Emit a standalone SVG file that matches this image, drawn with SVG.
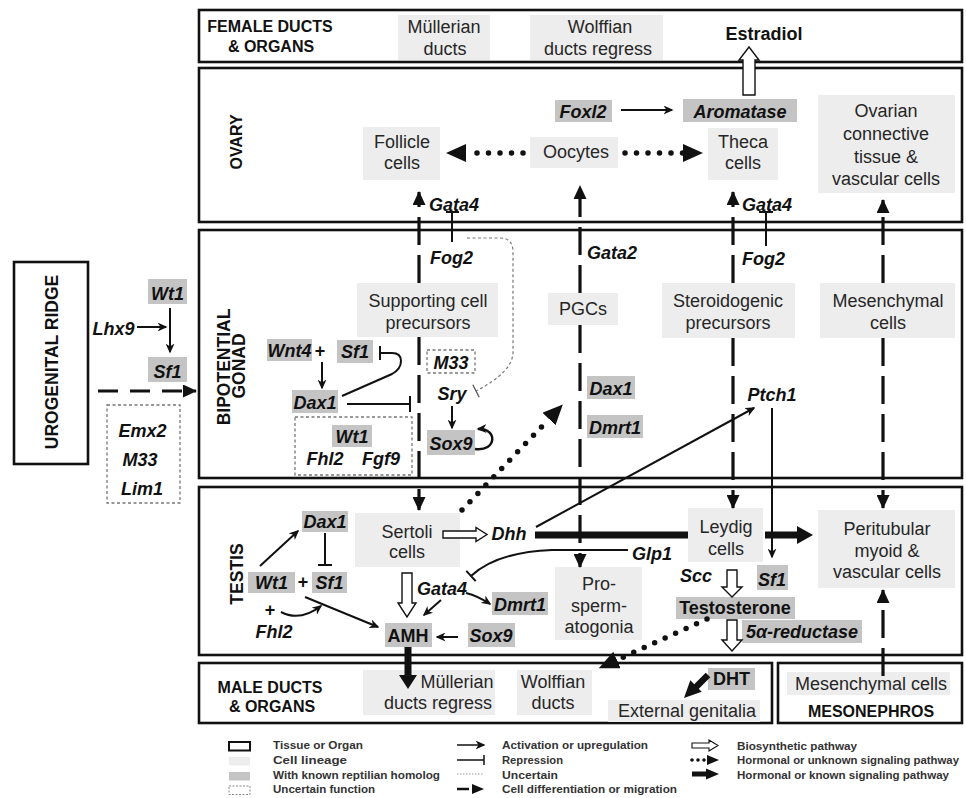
<svg xmlns="http://www.w3.org/2000/svg" width="966" height="798" viewBox="0 0 966 798">
<defs>
<style>
.org{fill:#fff;stroke:#111;stroke-width:2.6}
.cell{fill:#ededed}
.gene{fill:#c4c4c4}
.unb{fill:none;stroke:#777;stroke-width:1.3;stroke-dasharray:3 2.5}
text{font-family:"Liberation Sans",Arial,Helvetica,sans-serif;font-size:18px;fill:#262626;text-anchor:middle}
.g{font-weight:bold;font-style:italic;fill:#111}
.b{font-weight:bold;fill:#111}
.ti{font-weight:bold;font-size:16px;fill:#111}
.lg{font-weight:bold;font-size:11px;fill:#333;text-anchor:start}
.act{fill:none;stroke:#111;stroke-width:2;marker-end:url(#ma)}
.rep{fill:none;stroke:#111;stroke-width:2}
.diff{fill:none;stroke:#111;stroke-width:3.2;stroke-dasharray:28 10;marker-end:url(#md)}
.dots{fill:none;stroke:#111;stroke-width:5.5;stroke-linecap:round;stroke-dasharray:0 11.5;marker-end:url(#mh)}
.unc{fill:none;stroke:#777;stroke-width:1.2;stroke-dasharray:3 2.5}
.bio{fill:#fff;stroke:#111;stroke-width:1.4}
.thk{fill:#111}
</style>
<marker id="ma" viewBox="0 0 10 9" refX="8.5" refY="4.5" markerWidth="10" markerHeight="9" markerUnits="userSpaceOnUse" orient="auto"><path d="M0,0 L10,4.5 L0,9 L3,4.5 z" fill="#111"/></marker>
<marker id="md" viewBox="0 0 14 13" refX="13" refY="6.5" markerWidth="14" markerHeight="13" markerUnits="userSpaceOnUse" orient="auto"><path d="M0,0 L14,6.5 L0,13 z" fill="#111"/></marker>
<marker id="mh" viewBox="0 0 20 18" refX="0" refY="9" markerWidth="20" markerHeight="18" markerUnits="userSpaceOnUse" orient="auto"><path d="M0,0 L20,9 L0,18 z" fill="#111"/></marker>
</defs>
<rect width="966" height="798" fill="#fff"/>

<!-- tissue / organ boxes -->
<g id="female-ducts"><rect class="org" x="199" y="10" width="763" height="52"/>
<text class="ti" x="270" y="32">FEMALE DUCTS</text><text class="ti" x="271" y="52">&amp; ORGANS</text></g>
<g id="ovary"><rect class="org" x="199" y="68" width="763" height="154"/>
<text class="ti" transform="translate(242,142) rotate(-90)">OVARY</text></g>
<g id="bipotential-gonad"><rect class="org" x="199" y="230" width="763" height="248"/>
<text class="ti" style="font-size:17.5px" transform="translate(230,367) rotate(-90)">BIPOTENTIAL</text>
<text class="ti" style="font-size:17.5px" transform="translate(245,366) rotate(-90)">GONAD</text></g>
<g id="testis"><rect class="org" x="199" y="487" width="763" height="168"/>
<text class="ti" style="font-size:17.5px" transform="translate(243,574) rotate(-90)">TESTIS</text></g>
<g id="male-ducts"><rect class="org" x="199" y="663" width="573" height="60"/>
<text class="ti" x="270" y="693">MALE DUCTS</text><text class="ti" x="272" y="712">&amp; ORGANS</text></g>
<g id="mesonephros"><rect class="org" x="778" y="663" width="184" height="60"/>
<text class="ti" x="871" y="717">MESONEPHROS</text></g>
<g id="urogenital-ridge"><rect class="org" x="14" y="262" width="74" height="202"/>
<text class="ti" style="font-size:17.5px" transform="translate(58,362) rotate(-90)">UROGENITAL RIDGE</text></g>

<!-- female ducts nodes -->
<g id="mullerian-ducts"><rect class="cell" x="398" y="15" width="92" height="45"/><text x="444" y="33">Müllerian</text><text x="445" y="55">ducts</text></g>
<g id="wolffian-regress"><rect class="cell" x="530" y="15" width="133" height="45"/><text x="600" y="33">Wolffian</text><text x="598" y="55">ducts regress</text></g>
<g id="estradiol"><text class="b" x="764" y="40">Estradiol</text></g>

<!-- ovary nodes -->
<g id="foxl2"><rect class="gene" x="555" y="100" width="57" height="22"/><text class="g" x="583" y="118">Foxl2</text></g>
<g id="aromatase"><rect class="gene" x="683" y="99" width="114" height="23"/><text class="g" x="740" y="118">Aromatase</text></g>
<g id="follicle-cells"><rect class="cell" x="363" y="127" width="77" height="53"/><text x="402" y="148">Follicle</text><text x="402" y="169">cells</text></g>
<g id="oocytes"><rect class="cell" x="530" y="137" width="88" height="31"/><text x="576" y="158">Oocytes</text></g>
<g id="theca-cells"><rect class="cell" x="708" y="128" width="70" height="52"/><text x="743" y="148">Theca</text><text x="743" y="169">cells</text></g>
<g id="ovarian-connective"><rect class="cell" x="818" y="95" width="137" height="98"/><text x="886" y="117">Ovarian</text><text x="886" y="140">connective</text><text x="886" y="163">tissue &amp;</text><text x="886" y="185">vascular cells</text></g>
<g id="gata4-ov1"><text class="g" x="429" y="211" style="text-anchor:start">Gata4</text></g>
<g id="gata4-ov2"><text class="g" x="742" y="211" style="text-anchor:start">Gata4</text></g>

<!-- urogenital ridge genes -->
<g id="wt1-ur"><rect class="gene" x="148" y="279" width="39" height="25"/><text class="g" x="167.5" y="300">Wt1</text></g>
<g id="lhx9"><text class="g" x="113.5" y="335">Lhx9</text></g>
<g id="sf1-ur"><rect class="gene" x="148" y="357" width="39" height="25"/><text class="g" x="167.5" y="378">Sf1</text></g>
<g id="uncertain-ur"><rect class="unb" x="107" y="405" width="73" height="98"/><text class="g" x="142.5" y="437">Emx2</text><text class="g" x="140" y="466">M33</text><text class="g" x="142" y="495">Lim1</text></g>

<!-- bipotential gonad nodes -->
<g id="supporting-precursors"><rect class="cell" x="357" y="283" width="141" height="54"/><text x="428" y="307">Supporting cell</text><text x="428" y="329">precursors</text></g>
<g id="pgcs"><rect class="cell" x="548" y="293" width="70" height="32"/><text x="583" y="315">PGCs</text></g>
<g id="steroidogenic-precursors"><rect class="cell" x="662" y="283" width="133" height="55"/><text x="728" y="307">Steroidogenic</text><text x="728" y="329">precursors</text></g>
<g id="mesenchymal-bip"><rect class="cell" x="820" y="283" width="135" height="55"/><text x="888" y="307">Mesenchymal</text><text x="888" y="329">cells</text></g>
<g id="fog2-1"><text class="g" x="430" y="264" style="text-anchor:start">Fog2</text></g>
<g id="gata2"><text class="g" x="587" y="259" style="text-anchor:start">Gata2</text></g>
<g id="fog2-2"><text class="g" x="742" y="265" style="text-anchor:start">Fog2</text></g>
<g id="wnt4"><rect class="gene" x="267" y="339" width="45" height="22"/><text class="g" x="289.5" y="357">Wnt4</text><text class="b" x="320" y="357">+</text></g>
<g id="sf1-bip"><rect class="gene" x="337" y="340" width="36" height="23"/><text class="g" x="355" y="358">Sf1</text></g>
<g id="dax1-bip"><rect class="gene" x="292" y="390" width="46" height="23"/><text class="g" x="315" y="409">Dax1</text></g>
<g id="uncertain-bip"><rect class="unb" x="295" y="417" width="117" height="58"/><rect class="gene" x="332" y="425" width="40" height="22"/><text class="g" x="352" y="443">Wt1</text><text class="g" x="325" y="465">Fhl2</text><text class="g" x="381" y="465">Fgf9</text></g>
<g id="m33-bip"><rect class="unb" x="427" y="350" width="48" height="23"/><text class="g" x="451" y="369">M33</text></g>
<g id="sry"><text class="g" x="452" y="400">Sry</text></g>
<g id="sox9-bip"><rect class="gene" x="427" y="430" width="48" height="25"/><text class="g" x="451" y="450">Sox9</text></g>
<g id="dax1-pgc"><rect class="gene" x="587" y="376" width="48" height="23"/><text class="g" x="611" y="395">Dax1</text></g>
<g id="dmrt1-pgc"><rect class="gene" x="587" y="415" width="56" height="23"/><text class="g" x="615" y="434">Dmrt1</text></g>
<g id="ptch1"><text class="g" x="772" y="401">Ptch1</text></g>

<!-- testis nodes -->
<g id="dax1-t"><rect class="gene" x="302" y="511" width="46" height="21"/><text class="g" x="325" y="528">Dax1</text></g>
<g id="wt1-t"><rect class="gene" x="248" y="572" width="47" height="21"/><text class="g" x="271.5" y="589">Wt1</text><text class="b" x="303" y="588">+</text></g>
<g id="sf1-t"><rect class="gene" x="312" y="572" width="35" height="21"/><text class="g" x="329.5" y="589">Sf1</text></g>
<g id="fhl2-t"><text class="b" x="270" y="616">+</text><text class="g" x="274" y="638">Fhl2</text></g>
<g id="sertoli-cells"><rect class="cell" x="355" y="513" width="105" height="54"/><text x="407" y="538">Sertoli</text><text x="407" y="558">cells</text></g>
<g id="dhh"><text class="g" x="509" y="540">Dhh</text></g>
<g id="gata4-t"><text class="g" x="442" y="595">Gata4</text></g>
<g id="dmrt1-t"><rect class="gene" x="492" y="592" width="56" height="23"/><text class="g" x="520" y="611">Dmrt1</text></g>
<g id="amh"><rect class="gene" x="385" y="623" width="47" height="24"/><text class="b" x="408" y="642">AMH</text></g>
<g id="sox9-t"><rect class="gene" x="468" y="623" width="47" height="24"/><text class="g" x="491" y="642">Sox9</text></g>
<g id="prospermatogonia"><rect class="cell" x="555" y="567" width="87" height="73"/><text x="599" y="590">Pro-</text><text x="599" y="612">sperm-</text><text x="599" y="633">atogonia</text></g>
<g id="glp1"><text class="g" x="652" y="560">Glp1</text></g>
<g id="leydig-cells"><rect class="cell" x="688" y="508" width="75" height="54"/><text x="726" y="533">Leydig</text><text x="726" y="555">cells</text></g>
<g id="scc"><text class="g" x="696" y="582">Scc</text></g>
<g id="sf1-t2"><rect class="gene" x="757" y="565" width="31" height="25"/><text class="g" x="772" y="586">Sf1</text></g>
<g id="testosterone"><rect class="gene" x="676" y="597" width="119" height="22"/><text class="b" x="735" y="614">Testosterone</text></g>
<g id="reductase"><rect class="gene" x="742" y="620" width="120" height="23"/><text class="g" x="802" y="638">5α-reductase</text></g>
<g id="peritubular"><rect class="cell" x="818" y="510" width="137" height="78"/><text x="887" y="535">Peritubular</text><text x="887" y="557">myoid &amp;</text><text x="887" y="578">vascular cells</text></g>

<!-- male ducts / mesonephros nodes -->
<g id="mullerian-regress"><rect class="cell" x="363" y="670" width="132" height="45"/><text x="457" y="688">Müllerian</text><text x="438" y="709">ducts regress</text></g>
<g id="wolffian-ducts"><rect class="cell" x="517" y="670" width="75" height="45"/><text x="553" y="688">Wolffian</text><text x="553" y="709">ducts</text></g>
<g id="dht"><rect class="gene" x="708" y="668" width="47" height="22"/><text class="b" x="731.5" y="685">DHT</text></g>
<g id="external-genitalia"><rect class="cell" x="608" y="700" width="152" height="22"/><text x="687" y="717">External genitalia</text></g>
<g id="mesenchymal-meso"><rect class="cell" x="787" y="672" width="163" height="23"/><text x="871" y="690">Mesenchymal cells</text></g>

<!-- connectors -->
<g id="connectors">
<path class="diff" d="M419,283 L419,192"/>
<path class="diff" d="M419,337 L419,510"/>
<path class="diff" d="M580,293 L580,186"/>
<path class="diff" d="M580,325 L580,567"/>
<path class="diff" d="M733,283 L733,192"/>
<path class="diff" d="M733,338 L733,508"/>
<path class="diff" d="M883,283 L883,200"/>
<path class="diff" d="M883,338 L883,508"/>
<path class="diff" d="M883,676 L883,590"/>
<path class="diff" style="stroke-dasharray:20 12" d="M98,391 L196,391"/>
<path class="act" d="M137,327 L166,327"/>
<path class="act" d="M170,308 L170,352"/>
<path class="act" d="M322,362 L322,388"/>
<path class="act" d="M452,406 L452,428"/>
<path class="act" style="stroke-width:2.5" d="M475,449 C497,452 498,428 478,429"/>
<path class="act" d="M621,110 L672,110"/>
<path class="act" d="M536,527 L754,408"/>
<path class="act" d="M772,408 L772,557"/>
<path class="act" d="M466,593 Q478,596 490,604"/>
<path class="act" d="M441,600 L424,615"/>
<path class="act" d="M458,637 L437,637"/>
<path class="act" d="M260,566 L298,531"/>
<path class="act" d="M281,612 Q300,622 321,606"/>
<path class="act" d="M305,597 L378,627"/>
<path class="rep" d="M342,396 L392,374 Q401,369 401,361 Q401,353 392,353 L380,353"/>
<path class="rep" d="M380,346 L380,360"/>
<path class="rep" d="M347,404 L410,404 M410,396 L410,412"/>
<path class="rep" d="M452,242 L452,212 M446,212 L459,212"/>
<path class="rep" d="M766,246 L766,212 M759,212 L773,212"/>
<path class="rep" d="M628,550 L552,550 Q497,552 471,576 M466.3,570.9 L475.7,581.1"/>
<path class="rep" d="M325,533 L325,565 M318,565 L332,565"/>
<path class="unc" d="M467,238 L500,238 Q513,238 513,252 L513,352 Q513,372 476,391"/>
<path class="rep" style="stroke-width:1.3;stroke:#555" d="M472.8,384.8 L479.2,397.2"/>
<path class="dots" d="M523,153 L466,153"/>
<path class="dots" d="M625,153 L683,153"/>
<path class="dots" d="M462,510 L549,419"/>
<path class="dots" d="M707,619 L617,660"/>
<path d="M535,535 L688,535 M765,535 L799,535" stroke="#111" stroke-width="7" fill="none"/>
<path class="thk" d="M797,526 L813,535 L797,544 z"/>
<path class="thk" d="M404.5,647 L411.5,647 L411.5,675 L417,675 L408,689 L399,675 L404.5,675 z"/>
<path d="M708,675 L695,688" stroke="#111" stroke-width="6.5" fill="none"/>
<path class="thk" d="M701.7,691.7 L690.3,680.3 L684,698 z"/>
<path class="bio" d="M743,95 L755,95 L755,60 L759,60 L749,47 L739,60 L743,60 z"/>
<path class="bio" d="M443,531 L476,531 L476,527.5 L487,534.5 L476,541.5 L476,538 L443,538 z"/>
<path class="bio" d="M402,573 L412,573 L412,603 L416,603 L407,617 L398,603 L402,603 z"/>
<path class="bio" d="M727,570 L737,570 L737,587 L742,587 L732,597 L722,587 L727,587 z"/>
<path class="bio" d="M727,620 L737,620 L737,640 L742,640 L732,651 L722,640 L727,640 z"/>
</g>

<!-- legend -->
<g id="legend">
<rect x="229" y="742" width="21" height="8.5" fill="#fff" stroke="#111" stroke-width="2"/>
<rect x="229" y="757" width="21" height="8.5" fill="#ededed"/>
<rect x="229" y="772" width="21" height="8.5" fill="#c4c4c4"/>
<rect x="229" y="786" width="21" height="8.5" fill="none" stroke="#888" stroke-width="1" stroke-dasharray="2 1.5"/>
<text class="lg" x="273" y="749" textLength="90" lengthAdjust="spacingAndGlyphs">Tissue or Organ</text>
<text class="lg" x="273" y="764" textLength="74" lengthAdjust="spacingAndGlyphs">Cell lineage</text>
<text class="lg" x="273" y="779" textLength="167" lengthAdjust="spacingAndGlyphs">With known reptilian homolog</text>
<text class="lg" x="273" y="793" textLength="102" lengthAdjust="spacingAndGlyphs">Uncertain function</text>
<path class="act" style="stroke-width:1.5" d="M457,745 L484,745"/>
<path class="rep" style="stroke-width:1.5" d="M457,760 L484,760 M484,755 L484,765"/>
<path class="unc" style="stroke:#999;stroke-width:1;stroke-dasharray:1.5 1.5" d="M457,774 L484,774"/>
<path d="M457,789 L469,789" stroke="#111" stroke-width="2.5"/>
<path class="thk" d="M472,784 L484,789 L472,794 z"/>
<text class="lg" x="502" y="749" textLength="146" lengthAdjust="spacingAndGlyphs">Activation or upregulation</text>
<text class="lg" x="502" y="764" textLength="61" lengthAdjust="spacingAndGlyphs">Repression</text>
<text class="lg" x="502" y="779" textLength="56" lengthAdjust="spacingAndGlyphs">Uncertain</text>
<text class="lg" x="502" y="793" textLength="175" lengthAdjust="spacingAndGlyphs">Cell differentiation or migration</text>
<path class="bio" style="stroke-width:1.1" d="M692,743 L709,743 L709,740 L718,745.5 L709,751 L709,748 L692,748 z"/>
<circle cx="692" cy="760" r="1.8" fill="#111"/><circle cx="698" cy="760" r="1.8" fill="#111"/><circle cx="704" cy="760" r="1.8" fill="#111"/>
<path class="thk" d="M707,755 L719,760 L707,765 z"/>
<path d="M692,774 L708,774" stroke="#111" stroke-width="5"/>
<path class="thk" d="M706,768.5 L719,774 L706,779.5 z"/>
<text class="lg" x="737" y="750" textLength="120" lengthAdjust="spacingAndGlyphs">Biosynthetic pathway</text>
<text class="lg" x="737" y="764" style="font-size:10.5px" textLength="222" lengthAdjust="spacingAndGlyphs">Hormonal or unknown signaling pathway</text>
<text class="lg" x="737" y="779" textLength="212" lengthAdjust="spacingAndGlyphs">Hormonal or known signaling pathway</text>
</g>
</svg>
